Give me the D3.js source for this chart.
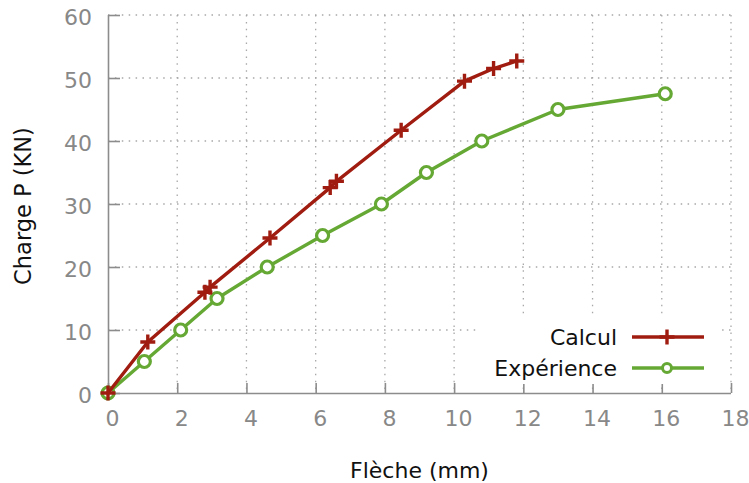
<!DOCTYPE html>
<html>
<head>
<meta charset="utf-8">
<script src="https://cdn.jsdelivr.net/npm/d3@7/dist/d3.min.js"></script>
<style>
  html, body { margin: 0; padding: 0; background: #fff; }
  svg { display: block; font-family: "DejaVu Sans", Verdana, sans-serif; }
</style>
</head>
<body>
<svg id="chart" width="749" height="483"></svg>
<script>
// Deflection (mm) vs load P (kN): computed curve and test measurements
const calculX = [0, 1.15, 2.8, 2.95, 4.68, 6.42, 6.6, 8.47, 10.3, 11.14, 11.81];
const calculY = [0, 8.1, 16.0, 16.8, 24.6, 32.6, 33.6, 41.7, 49.5, 51.5, 52.7];
const experienceX = [0, 1.05, 2.1, 3.15, 4.6, 6.2, 7.9, 9.2, 10.8, 13.0, 16.1];
const experienceY = [0, 5, 10, 15, 20, 25, 30, 35, 40, 45, 47.5];
const xTicks = [0, 2, 4, 6, 8, 10, 12, 14, 16, 18];
const yTicks = [0, 10, 20, 30, 40, 50, 60];

const RED = "#a01c10";
const GREEN = "#65a834";
const AXIS = "#8c8c8c";

const svg = d3.select("#chart");
const plot = { left: 108, right: 731, top: 15, bottom: 393 };

const x = d3.scaleLinear().domain([0, 18]).range([plot.left, plot.right]);
const y = d3.scaleLinear().domain([0, 60]).range([plot.bottom, plot.top]);

// dotted grid
const grid = svg.append("g").attr("stroke", "#a8a8a8").attr("stroke-width", 1.3)
  .attr("stroke-dasharray", "1.5,5.4");
grid.selectAll("line.v").data(xTicks.filter(d => d > 0)).join("line").attr("class", "v")
  .attr("x1", d => x(d)).attr("x2", d => x(d)).attr("y1", plot.top).attr("y2", plot.bottom);
grid.selectAll("line.h").data(yTicks.filter(d => d > 0)).join("line").attr("class", "h")
  .attr("x1", plot.left).attr("x2", plot.right).attr("y1", d => y(d)).attr("y2", d => y(d));

// axes
const xAxis = d3.axisBottom(x).tickValues(xTicks).tickSize(-10).tickPadding(17);
const yAxis = d3.axisLeft(y).tickValues(yTicks).tickSize(-12).tickPadding(16);

const gx = svg.append("g").attr("transform", `translate(0,${plot.bottom})`).call(xAxis);
const gy = svg.append("g").attr("transform", `translate(${plot.left},0)`).call(yAxis);
[gx, gy].forEach(g => {
  g.select(".domain").attr("stroke", AXIS).attr("stroke-width", 1.6);
  g.selectAll(".tick line").attr("stroke", AXIS).attr("stroke-width", 1.6);
  g.selectAll(".tick text").attr("fill", "#888").attr("font-size", 22)
    .attr("font-family", "DejaVu Sans, Verdana, sans-serif");
});
gx.select(".domain").attr("d", `M${plot.left},0.5H${plot.right}`);
gy.select(".domain").attr("d", `M0.5,${plot.bottom}V${plot.top}`);
gx.selectAll(".tick text").attr("dx", 4);
gy.selectAll(".tick text").attr("dy", "0.42em");

// axis titles
svg.append("text").attr("x", (plot.left + plot.right) / 2).attr("y", 478)
  .attr("text-anchor", "middle").attr("font-size", 22).attr("fill", "#111")
  .text("Flèche (mm)");
svg.append("text").attr("transform", `translate(31,${(plot.top + plot.bottom) / 2 + 2}) rotate(-90)`)
  .attr("text-anchor", "middle").attr("font-size", 22.5).attr("fill", "#111")
  .text("Charge P (KN)");

const calcul = calculX.map((v, i) => [v, calculY[i]]);
const experience = experienceX.map((v, i) => [v, experienceY[i]]);
const line = d3.line().x(d => x(d[0])).y(d => y(d[1]));

// legend box hides the grid behind it
svg.append("rect").attr("x", 477).attr("y", 318).attr("width", 240).attr("height", 66).attr("fill", "#fff");

// series: experiment
svg.append("path").datum(experience).attr("d", line)
  .attr("fill", "none").attr("stroke", GREEN).attr("stroke-width", 3.4).attr("stroke-linejoin", "round");
svg.selectAll("circle.exp").data(experience).join("circle").attr("class", "exp")
  .attr("cx", d => x(d[0])).attr("cy", d => y(d[1])).attr("r", 6)
  .attr("fill", "#fff").attr("stroke", GREEN).attr("stroke-width", 3.2);

// series: computed
svg.append("path").datum(calcul).attr("d", line)
  .attr("fill", "none").attr("stroke", RED).attr("stroke-width", 3.4).attr("stroke-linejoin", "round");
const crossPath = s => `M${-s},0H${s}M0,${-s}V${s}`;
svg.selectAll("path.calc").data(calcul).join("path").attr("class", "calc")
  .attr("transform", d => `translate(${x(d[0])},${y(d[1])})`)
  .attr("d", crossPath(7.5)).attr("stroke", RED).attr("stroke-width", 3.4).attr("fill", "none");

// legend
const legend = svg.append("g");
const items = [
  { label: "Calcul", color: RED, ly: 337, mark: "cross" },
  { label: "Expérience", color: GREEN, ly: 368, mark: "circle" }
];
items.forEach(it => {
  legend.append("text").attr("x", 617).attr("y", it.ly + 8).attr("text-anchor", "end")
    .attr("font-size", 22).attr("fill", "#111").text(it.label);
  legend.append("line").attr("x1", 632).attr("x2", 704).attr("y1", it.ly).attr("y2", it.ly)
    .attr("stroke", it.color).attr("stroke-width", 3.4);
  if (it.mark === "cross") {
    legend.append("path").attr("transform", `translate(667,${it.ly})`).attr("d", crossPath(7.5))
      .attr("stroke", it.color).attr("stroke-width", 3.4);
  } else {
    legend.append("circle").attr("cx", 667).attr("cy", it.ly).attr("r", 4.5)
      .attr("fill", "#fff").attr("stroke", it.color).attr("stroke-width", 3);
  }
});
</script>
</body>
</html>
